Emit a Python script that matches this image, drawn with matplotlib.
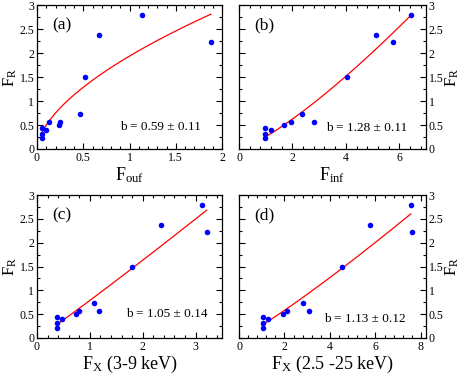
import numpy as np
import matplotlib
matplotlib.use("Agg")
import matplotlib.pyplot as plt
from matplotlib.ticker import MultipleLocator

plt.rcParams["font.family"] = ["Liberation Serif", "DejaVu Serif"]
plt.rcParams["mathtext.fontset"] = "custom"
plt.rcParams["mathtext.rm"] = "Liberation Serif"
plt.rcParams["mathtext.it"] = "Liberation Serif:italic"

# radio flux, shared by all four panels
f_r = [0.22, 0.31, 0.44, 0.40, 0.51, 0.56, 0.57, 0.73, 1.49, 2.37, 2.23, 2.79]
# x quantities for each panel
f_ouf = [0.05, 0.05, 0.05, 0.095, 0.235, 0.245, 0.125, 0.465, 0.52, 0.67, 1.88, 1.14]
f_inf = [0.96, 0.96, 0.97, 1.18, 1.69, 1.96, 2.82, 2.35, 4.03, 5.12, 5.75, 6.44]
f_x39 = [0.38, 0.38, 0.38, 0.47, 0.74, 0.79, 1.17, 1.08, 1.80, 2.35, 3.22, 3.12]
f_x25 = [1.04, 1.04, 1.04, 1.29, 1.95, 2.10, 3.06, 2.80, 4.54, 5.77, 7.59, 7.56]

# power-law fits F_R = norm * F^b
fit_norm = [1.936, 0.257, 0.788, 0.265]
fit_b = [0.59, 1.28, 1.05, 1.13]
fit_err = [0.11, 0.11, 0.14, 0.12]
fit_range = [(0.05, 1.88), (0.96, 6.44), (0.38, 3.21), (1.0, 7.55)]

panel_names = ["(a)", "(b)", "(c)", "(d)"]
xlabels = [r"$\mathrm{F_{ouf}}$", r"$\mathrm{F_{inf}}$",
           r"$\mathrm{F_X}$ (3-9 keV)", r"$\mathrm{F_X}$ (2.5 -25 keV)"]
xdata = [f_ouf, f_inf, f_x39, f_x25]
xlims = [2.0, 7.0, 3.5, 8.22]
xmajor = [0.5, 2, 1, 2]
xminor = [0.1, 0.4, 0.2, 0.4]
btext_pos = [(0.665, 0.153), (0.68, 0.146), (0.70, 0.168), (0.674, 0.133)]

W, H = 463, 382
fig = plt.figure(figsize=(W / 100, H / 100), dpi=100)
boxes = [(37, 5, 222, 149), (239, 5, 426, 149),
         (37, 195, 222, 338), (239, 195, 426, 338)]

for k in range(4):
    x0, y0, x1, y1 = boxes[k]
    ax = fig.add_axes([x0 / W, 1 - y1 / H, (x1 - x0) / W, (y1 - y0) / H])
    ax.plot(xdata[k], f_r, "o", color="#0000ff", ms=4, mec="none", zorder=3)
    lo, hi = fit_range[k]
    xx = np.linspace(lo, hi, 200)
    ax.plot(xx, fit_norm[k] * xx ** fit_b[k], color="red", lw=0.9)

    ax.set_xlim(0, xlims[k])
    ax.set_ylim(0, 3)
    ax.xaxis.set_major_locator(MultipleLocator(xmajor[k]))
    ax.xaxis.set_minor_locator(MultipleLocator(xminor[k]))
    ax.yaxis.set_major_locator(MultipleLocator(0.5))
    ax.yaxis.set_minor_locator(MultipleLocator(0.25))
    ax.tick_params(which="both", direction="in", top=True, right=True,
                   labelsize=8.5, width=0.8, pad=2)
    ax.tick_params(which="major", length=4)
    ax.tick_params(which="minor", length=2)
    ax.xaxis.set_major_formatter(plt.FuncFormatter(lambda v, p: f"{v:g}"))
    ax.yaxis.set_major_formatter(plt.FuncFormatter(lambda v, p: f"{v:g}"))
    for s in ax.spines.values():
        s.set_linewidth(0.9)

    ax.set_xlabel(xlabels[k], fontsize=13, labelpad=1)
    ax.set_ylabel(r"$\mathrm{F_R}$", fontsize=12, labelpad=0)
    if k % 2 == 1:
        ax.yaxis.set_label_position("right")
        ax.tick_params(axis="y", which="both", labelleft=False, labelright=True)

    ax.text(0.08, 0.86, panel_names[k], transform=ax.transAxes,
            fontsize=12.5, va="center", ha="left")
    bx, by = btext_pos[k]
    ax.text(bx, by, f"b = {fit_b[k]:.2f} \u00b1 {fit_err[k]:.2f}",
            transform=ax.transAxes, fontsize=9.5, ha="center", va="center")

fig.savefig("out.png", dpi=100)
